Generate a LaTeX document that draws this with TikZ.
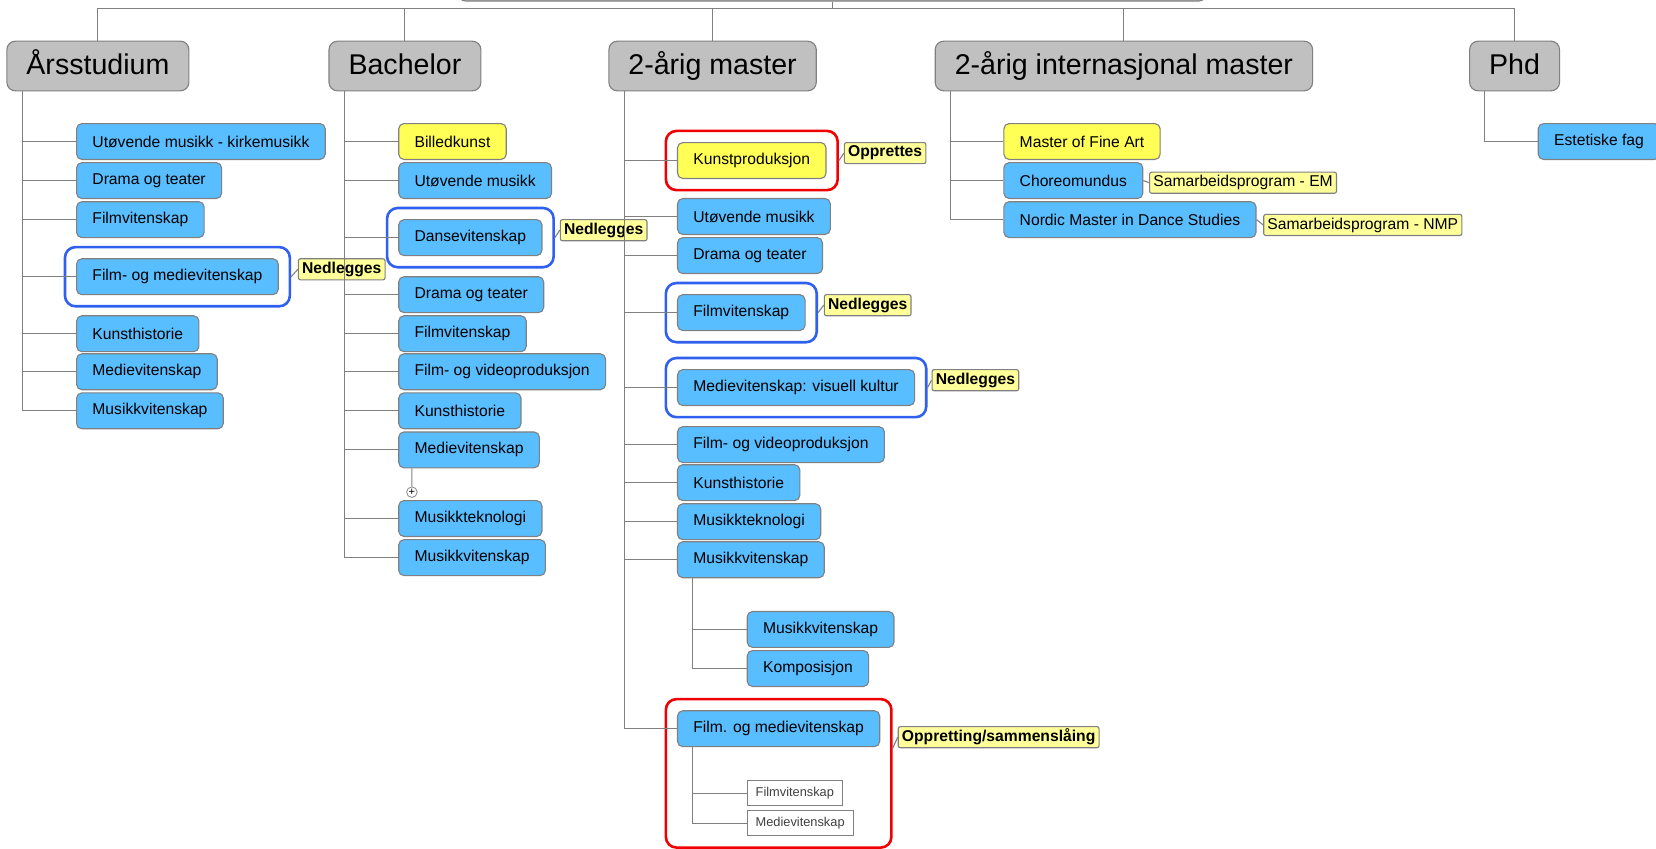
\documentclass[tikz,border=0pt]{standalone}
\usepackage{fontspec}
\setmainfont{Liberation Sans}
\usetikzlibrary{fit}
\definecolor{linegray}{RGB}{128,128,128}
\definecolor{headgray}{RGB}{192,192,192}
\definecolor{boxblue}{RGB}{89,190,255}
\definecolor{boxyellow}{RGB}{255,255,85}
\definecolor{noteyellow}{RGB}{255,255,153}
\definecolor{ringblue}{RGB}{48,96,240}
\definecolor{ringred}{RGB}{240,0,0}
\definecolor{textgray}{RGB}{64,64,64}
\tikzset{
  head/.style={draw=linegray, fill=headgray, line width=0.6pt, rounded corners=0.16cm,
    minimum height=0.94cm, inner xsep=0.37cm, anchor=west, text height=1.0em, text depth=0.1em,
    font=\fontsize{15.4}{18}\selectfont},
  item/.style={draw=linegray, fill=boxblue, line width=0.6pt, rounded corners=0.1cm,
    minimum height=0.68cm, inner xsep=0.3cm, anchor=west, font=\fontsize{8.45}{10}\selectfont},
  newitem/.style={item, fill=boxyellow},
  note/.style={draw=linegray, fill=noteyellow, line width=0.6pt, rounded corners=0.04cm,
    minimum height=0.4cm, inner xsep=0.07cm, inner ysep=0pt, anchor=west,
    font=\fontsize{8.45}{10}\selectfont\bfseries},
  plainnote/.style={note, font=\fontsize{8.45}{10}\selectfont},
  sub/.style={draw=linegray, fill=white, line width=0.6pt, minimum height=0.48cm,
    inner xsep=0.16cm, inner ysep=0pt, anchor=west, text=textgray,
    font=\fontsize{6.9}{8}\selectfont},
  plusmark/.style={draw=linegray, circle, fill=white, inner sep=0pt, minimum size=0.2cm,
    font=\fontsize{6}{6}\selectfont},
  bluering/.style={draw=ringblue, line width=1.4pt, rounded corners=0.2cm, inner sep=0.21cm},
  redring/.style={bluering, draw=ringred},
  link/.style={draw=linegray, line width=0.6pt}
}
\begin{document}
\begin{tikzpicture}[x=0.02cm,y=-0.02cm]
  \useasboundingbox (0,0) rectangle (1568,803);
  % root and headers
  \node[head, minimum width=14.2cm, minimum height=1cm, anchor=south] (root) at (788,1.5) {};
  \node[head] (ars) at (6,62.5) {Årsstudium};
  \node[head] (bach) at (311,62.5) {Bachelor};
  \node[head] (mast) at (576,62.5) {2-årig master};
  \node[head] (intl) at (885,62.5) {2-årig internasjonal master};
  \node[head] (phd) at (1391,62.5) {Phd};
  % Årsstudium
  \node[item] (a1) at (72,134) {Utøvende musikk - kirkemusikk};
  \node[item] (a2) at (72,171) {Drama og teater};
  \node[item] (a3) at (72,208) {Filmvitenskap};
  \node[item] (a4) at (72,262) {Film- og medievitenskap};
  \node[item] (a5) at (72,316) {Kunsthistorie};
  \node[item] (a6) at (72,352) {Medievitenskap};
  \node[item] (a7) at (72,389) {Musikkvitenskap};
  \node[bluering, fit=(a4)] (a4ring) {};
  \node[note] (a4note) at (282,255) {Nedlegges};
  % Bachelor
  \node[newitem] (b1) at (377,134) {Billedkunst};
  \node[item] (b2) at (377,171) {Utøvende musikk};
  \node[item] (b3) at (377,225) {Dansevitenskap};
  \node[item] (b4) at (377,279) {Drama og teater};
  \node[item] (b5) at (377,316) {Filmvitenskap};
  \node[item] (b6) at (377,352) {Film- og videoproduksjon};
  \node[item] (b7) at (377,389) {Kunsthistorie};
  \node[item] (b8) at (377,426) {Medievitenskap};
  \node[plusmark] (b8plus) at (390,466) {+};
  \node[item] (b9) at (377,491) {Musikkteknologi};
  \node[item] (b10) at (377,528) {Musikkvitenskap};
  \node[bluering, fit=(b3)] (b3ring) {};
  \node[note] (b3note) at (530,218) {Nedlegges};
  % 2-årig master
  \node[newitem] (m1) at (641,152) {Kunstproduksjon};
  \node[item] (m2) at (641,205) {Utøvende musikk};
  \node[item] (m3) at (641,242) {Drama og teater};
  \node[item] (m4) at (641,296) {Filmvitenskap};
  \node[item] (m5) at (641,367) {Medievitenskap: visuell kultur};
  \node[item] (m6) at (641,421) {Film- og videoproduksjon};
  \node[item] (m7) at (641,457) {Kunsthistorie};
  \node[item] (m8) at (641,494) {Musikkteknologi};
  \node[item] (m9) at (641,530) {Musikkvitenskap};
  \node[item] (m9a) at (707,596) {Musikkvitenskap};
  \node[item] (m9b) at (707,633) {Komposisjon};
  \node[item] (m10) at (641,690) {Film. og medievitenskap};
  \node[sub] (m10a) at (707,751) {Filmvitenskap};
  \node[sub] (m10b) at (707,779.5) {Medievitenskap};
  \node[redring, fit=(m1)] (m1ring) {};
  \node[note] (m1note) at (799,145) {Opprettes};
  \node[bluering, fit=(m4)] (m4ring) {};
  \node[note] (m4note) at (780,289) {Nedlegges};
  \node[bluering, fit=(m5)] (m5ring) {};
  \node[note] (m5note) at (882,360) {Nedlegges};
  \node[redring, fit=(m10)(m10a)(m10b)] (m10ring) {};
  \node[note] (m10note) at (850,698) {Oppretting/sammenslåing};
  % 2-årig internasjonal master
  \node[newitem] (i1) at (950,134) {Master of Fine Art};
  \node[item] (i2) at (950,171) {Choreomundus};
  \node[item] (i3) at (950,208) {Nordic Master in Dance Studies};
  \node[plainnote] (i2note) at (1088,173) {Samarbeidsprogram - EM};
  \node[plainnote] (i3note) at (1196,213) {Samarbeidsprogram - NMP};
  % Phd
  \node[item] (p1) at (1456,134) {Estetiske fag};
  \begin{scope}[link]
    \draw (root.south) -- ++(0,6.5) -| (ars.north);
    \draw (root.south) -- ++(0,6.5) -| (bach.north);
    \draw (root.south) -- ++(0,6.5) -| (mast.north);
    \draw (root.south) -- ++(0,6.5) -| (intl.north);
    \draw (root.south) -- ++(0,6.5) -| (phd.north);
    \draw ([xshift=0.3cm]ars.south west) |- (a1.west);
    \draw ([xshift=0.3cm]ars.south west) |- (a2.west);
    \draw ([xshift=0.3cm]ars.south west) |- (a3.west);
    \draw ([xshift=0.3cm]ars.south west) |- (a4.west);
    \draw ([xshift=0.3cm]ars.south west) |- (a5.west);
    \draw ([xshift=0.3cm]ars.south west) |- (a6.west);
    \draw ([xshift=0.3cm]ars.south west) |- (a7.west);
    \draw ([xshift=0.3cm]bach.south west) |- (b1.west);
    \draw ([xshift=0.3cm]bach.south west) |- (b2.west);
    \draw ([xshift=0.3cm]bach.south west) |- (b3.west);
    \draw ([xshift=0.3cm]bach.south west) |- (b4.west);
    \draw ([xshift=0.3cm]bach.south west) |- (b5.west);
    \draw ([xshift=0.3cm]bach.south west) |- (b6.west);
    \draw ([xshift=0.3cm]bach.south west) |- (b7.west);
    \draw ([xshift=0.3cm]bach.south west) |- (b8.west);
    \draw ([xshift=0.3cm]bach.south west) |- (b9.west);
    \draw ([xshift=0.3cm]bach.south west) |- (b10.west);
    \draw ([xshift=0.26cm]b8.south west) -- (b8plus.north);
    \draw ([xshift=0.3cm]mast.south west) |- (m1.west);
    \draw ([xshift=0.3cm]mast.south west) |- (m2.west);
    \draw ([xshift=0.3cm]mast.south west) |- (m3.west);
    \draw ([xshift=0.3cm]mast.south west) |- (m4.west);
    \draw ([xshift=0.3cm]mast.south west) |- (m5.west);
    \draw ([xshift=0.3cm]mast.south west) |- (m6.west);
    \draw ([xshift=0.3cm]mast.south west) |- (m7.west);
    \draw ([xshift=0.3cm]mast.south west) |- (m8.west);
    \draw ([xshift=0.3cm]mast.south west) |- (m9.west);
    \draw ([xshift=0.3cm]mast.south west) |- (m10.west);
    \draw ([xshift=0.3cm]m9.south west) |- (m9a.west);
    \draw ([xshift=0.3cm]m9.south west) |- (m9b.west);
    \draw ([xshift=0.3cm]m10.south west) |- (m10a.west);
    \draw ([xshift=0.3cm]m10.south west) |- (m10b.west);
    \draw ([xshift=0.3cm]intl.south west) |- (i1.west);
    \draw ([xshift=0.3cm]intl.south west) |- (i2.west);
    \draw ([xshift=0.3cm]intl.south west) |- (i3.west);
    \draw ([xshift=0.3cm]phd.south west) |- (p1.west);
    \draw (a4ring.east) -- (a4note.west);
    \draw (b3ring.east) -- (b3note.west);
    \draw (m1ring.east) -- (m1note.west);
    \draw (m4ring.east) -- (m4note.west);
    \draw (m5ring.east) -- (m5note.west);
    \draw (m10ring.east |- m10note.south west) -- (m10note.west);
    \draw (i2.east) -- (i2note.west);
    \draw (i3.east) -- (i3note.west);
  \end{scope}
\end{tikzpicture}
\end{document}
